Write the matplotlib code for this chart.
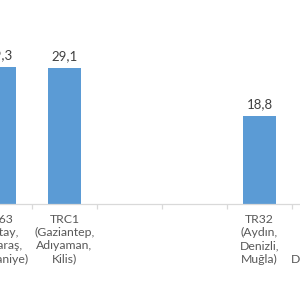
import numpy as np
import matplotlib
matplotlib.use('Agg')
import matplotlib.pyplot as plt

kategoriler = ['TR63\n(Hatay,\nK.Maraş,\nOsmaniye)',
               'TRC1\n(Gaziantep,\nAdıyaman,\nKilis)',
               '',
               '',
               'TR32\n(Aydın,\nDenizli,\nMuğla)',
               'TR42\n(Kocaeli,\nSakarya,\nDüzce, Bolu,\nYalova)']
degerler = [29.3, 29.1, np.nan, np.nan, 18.8, np.nan]

plt.rcParams['font.family'] = ['Lato', 'DejaVu Sans']

fig = plt.figure(figsize=(3.0, 2.96), dpi=100)
ax = fig.add_axes([0, 92 / 296, 1, 204 / 296])

x = np.arange(len(kategoriler))
ax.bar(x, degerler, width=0.51, color='#5B9BD5')

for i, v in enumerate(degerler):
    if not np.isnan(v):
        ax.annotate(f'{v:.1f}'.replace('.', ','), xy=(i, v), xytext=(0, 4.5),
                    textcoords='offset points', ha='center', va='bottom',
                    fontsize=9.5, color='#404040', annotation_clip=False)

for i, k in enumerate(kategoriler):
    ax.annotate(k, xy=(i, 0), xycoords=('data', 'axes fraction'), xytext=(0, -7),
                textcoords='offset points', ha='center', va='top',
                fontsize=8.8, color='#595959', linespacing=1.25,
                annotation_clip=False)

for s in ['top', 'left', 'right']:
    ax.spines[s].set_visible(False)
ax.spines['bottom'].set_color('#D9D9D9')
ax.spines['bottom'].set_linewidth(0.9)

ax.set_xticks([])
ax.set_xticks(np.arange(0.5, len(kategoriler), 1), minor=True)
ax.tick_params(axis='x', which='minor', length=3.5, color='#D9D9D9', width=0.9,
               labelbottom=False)
ax.set_yticks([])

ax.set_xlim(0.0077, 0.0077 + 300 / 65)
ax.set_ylim(0, 204 / 4.675)

fig.savefig('out.png', dpi=100)
